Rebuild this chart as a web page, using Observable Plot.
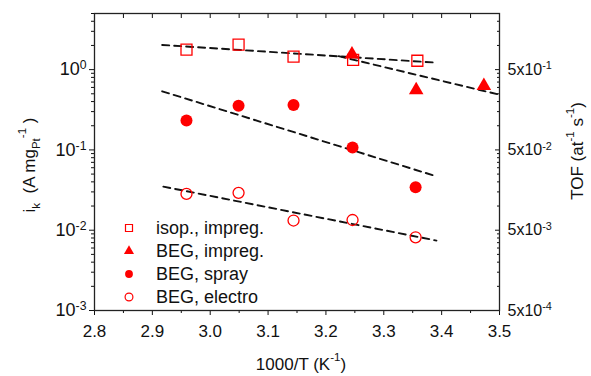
<!DOCTYPE html>
<html><head><meta charset="utf-8">
<script src="https://cdn.jsdelivr.net/npm/d3@7"></script>
<script src="https://cdn.jsdelivr.net/npm/@observablehq/plot@0.6"></script>
<style>
body{margin:0;background:#fff;font-family:"Liberation Sans",Arial,sans-serif}
#chart svg{font-family:"Liberation Sans",Arial,sans-serif;overflow:visible}
</style>
</head><body><div id="chart"></div>
<script>
// ---- data ----
const seriesNames = ["isop., impreg.", "BEG, impreg.", "BEG, spray", "BEG, electro"];
const isopX = [2.959, 3.049, 3.144, 3.247, 3.358];
const isopY = [1.77, 2.05, 1.45, 1.32, 1.29];
const impregX = [3.245, 3.356, 3.473];
const impregY = [1.55, 0.556, 0.627];
const sprayX = [2.959, 3.049, 3.144, 3.246, 3.355];
const sprayY = [0.232, 0.356, 0.363, 0.107, 0.0342];
const electroX = [2.959, 3.049, 3.144, 3.246, 3.355];
const electroY = [0.0283, 0.0292, 0.0132, 0.0134, 0.00816];
// Arrhenius fits (end points)
const fitIsopX = [2.917, 3.392], fitIsopY = [2.03, 1.22];
const fitImpregX = [3.222, 3.496], fitImpregY = [1.47, 0.495];
const fitSprayX = [2.917, 3.391], fitSprayY = [0.537, 0.0469];
const fitElectroX = [2.919, 3.391], fitElectroY = [0.0349, 0.00743];
// ticks
const xMajor = [2.8, 2.9, 3.0, 3.1, 3.2, 3.3, 3.4, 3.5];
const xMinor = [2.85, 2.95, 3.05, 3.15, 3.25, 3.35, 3.45];
const yMajor = [1e-3, 1e-2, 1e-1, 1];
const yExp = [-3, -2, -1, 0];
const tofExp = [-4, -3, -2, -1];
const yMinor = [];
for (const e of [-3, -2, -1, 0]) for (let m = 2; m <= 9; m++) { const v = m * Math.pow(10, e); if (v <= 5) yMinor.push(v); }

const pts = (xs, ys) => xs.map((x, i) => ({x, y: ys[i]}));
const red = "#ff0000";
const dash = {stroke: "#111", strokeWidth: 1.9, strokeDasharray: "7,5"};

const W = 591, H = 376;
const chart = Plot.plot({
  width: W, height: H,
  marginLeft: 94, marginRight: 92, marginTop: 13, marginBottom: 66,
  style: {fontFamily: "Liberation Sans, Arial, sans-serif", background: "#fff"},
  x: {domain: [2.8, 3.5]},
  y: {type: "log", domain: [1e-3, 5]},
  marks: [
    // axes: bottom
    Plot.axisX({anchor: "bottom", ticks: xMajor, tickSize: 5, tickPadding: 9, fontSize: 17, tickFormat: d3.format(".1f"), label: null, color: "#111"}),
    Plot.axisX({anchor: "bottom", ticks: xMinor, tickSize: 3, tickFormat: () => "", label: null, color: "#111"}),
    // top (inward)
    Plot.axisX({anchor: "top", ticks: xMajor.concat(xMinor), tickSize: -4, tickFormat: () => "", label: null, color: "#111"}),
    // left
    Plot.axisY({anchor: "left", ticks: yMajor, tickSize: 5, tickPadding: 3, fontSize: 18,
      tickFormat: d => "10^" + yExp[yMajor.indexOf(d)], label: null, color: "#111"}),
    Plot.axisY({anchor: "left", ticks: yMinor, tickSize: 3, tickFormat: () => "", label: null, color: "#111"}),
    // right (TOF = 0.5 * ik), inward ticks
    Plot.axisY({anchor: "right", ticks: yMajor, tickSize: -5, tickFormat: () => "", label: null, color: "#111"}),
    Plot.axisY({anchor: "right", ticks: yMinor, tickSize: -3, tickFormat: () => "", label: null, color: "#111"}),
    Plot.axisY({anchor: "right", ticks: yMajor, tickSize: 0, tickPadding: 8, fontSize: 16,
      tickFormat: d => "5x10^" + tofExp[yMajor.indexOf(d)], label: null, color: "#111"}),
    Plot.frame({stroke: "#222", strokeWidth: 1.3}),
    // fits
    Plot.line(pts(fitIsopX, fitIsopY), {x: "x", y: "y", ...dash}),
    Plot.line(pts(fitImpregX, fitImpregY), {x: "x", y: "y", ...dash}),
    Plot.line(pts(fitSprayX, fitSprayY), {x: "x", y: "y", ...dash}),
    Plot.line(pts(fitElectroX, fitElectroY), {x: "x", y: "y", ...dash}),
    // data
    Plot.dot(pts(isopX, isopY), {x: "x", y: "y", symbol: "square", r: 6.2, stroke: red, strokeWidth: 1.3, fill: "none"}),
    Plot.dot(pts(impregX, impregY), {x: "x", y: "y", symbol: "triangle", r: 5.4, fill: red, stroke: "none"}),
    Plot.dot(pts(sprayX, sprayY), {x: "x", y: "y", symbol: "circle", r: 6, fill: red, stroke: "none"}),
    Plot.dot(pts(electroX, electroY), {x: "x", y: "y", symbol: "circle", r: 5.5, stroke: red, strokeWidth: 1.3, fill: "none"})
  ]
});
document.getElementById("chart").appendChild(chart);

const svg = d3.select(chart);
// superscript tick labels
svg.selectAll("text").each(function () {
  const t = this.textContent;
  const m = /^(5x)?10\^(-?\d+)$/.exec(t);
  if (!m) return;
  const sel = d3.select(this);
  this.textContent = "";
  sel.append("tspan").text((m[1] || "") + "10");
  sel.append("tspan").attr("dy", "-0.5em").attr("font-size", "0.68em").text(m[2]);
});

// axis titles
function title(x, y, rot, parts, size) {
  const t = svg.append("text").attr("transform", `translate(${x},${y}) rotate(${rot})`)
    .attr("text-anchor", "middle").attr("font-size", size).attr("fill", "#111");
  let cur = 0;
  for (const [txt, kind] of parts) {
    const target = kind === "sub" ? 0.3 : kind === "sup" ? -0.55 : 0;
    const sp = t.append("tspan").text(txt);
    if (kind) sp.attr("font-size", "0.68em").attr("dy", ((target - cur) / 0.68).toFixed(3) + "em");
    else sp.attr("dy", (target - cur) + "em");
    cur = target;
  }
  return t;
}
title(35, 165, -90, [["i", null], ["k", "sub"], ["  (A mg", null], ["Pt", "sub"], ["-1", "sup"], [" )", null]], 17);
title(583, 151, -90, [["TOF (at", null], ["-1", "sup"], [" s", null], ["-1", "sup"], [")", null]], 17);
title(301, 370, 0, [["1000/T (K", null], ["-1", "sup"], [")", null]], 17);

// legend
const lg = svg.append("g").attr("font-size", 18).attr("fill", "#111").attr("text-anchor", "start");
const legendSym = [
  {sym: d3.symbolSquare, size: 49, fill: "none", stroke: red},
  {sym: d3.symbolTriangle, size: 44, fill: red, stroke: "none"},
  {sym: d3.symbolCircle, size: 48, fill: red, stroke: "none"},
  {sym: d3.symbolCircle, size: 48, fill: "none", stroke: red}
];
const rowY = [228, 251, 274, 297];
seriesNames.forEach((name, i) => {
  const s = legendSym[i];
  lg.append("path").attr("transform", `translate(129,${rowY[i]})`)
    .attr("d", d3.symbol(s.sym, s.size)()).attr("fill", s.fill).attr("stroke", s.stroke).attr("stroke-width", 1.2);
  lg.append("text").attr("x", 156).attr("y", rowY[i]).attr("dy", "0.36em").attr("text-anchor", "start").text(name);
});
</script>
</body></html>
